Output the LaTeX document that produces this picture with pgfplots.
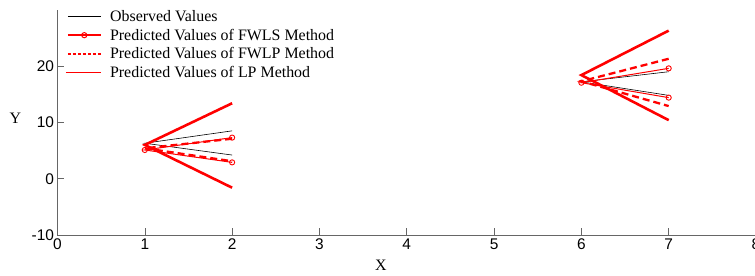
\documentclass[border=0pt]{standalone}
\usepackage{pgfplots}
\pgfplotsset{compat=1.18}
\usepackage{fontspec}
\setmainfont{Liberation Serif}
\newfontfamily\ticksans{Liberation Sans}
\begin{document}
\begin{tikzpicture}
\begin{axis}[
  at={(0,0)}, anchor=south west,
  scale only axis, width=698.5bp, height=225.2bp,
  xmin=0, xmax=8, ymin=-10, ymax=30,
  xtick={0,1,...,8}, ytick={-10,0,10,20},
  axis x line*=bottom, axis y line*=left,
  axis line style={draw=gray!80!black, line width=0.8pt},
  tick style={draw=gray!80!black, line width=0.6pt},
  tick align=inside, major tick length=7bp,
  tick label style={font=\ticksans\fontsize{15.5}{17}\selectfont},
  /pgf/number format/assume math mode=true,
  xlabel={X}, ylabel={Y},
  label style={font=\fontsize{16}{18}\selectfont},
  xlabel style={at={(axis description cs:0.463,0)}, anchor=north, yshift=-22bp},
  ylabel style={rotate=-90, at={(axis description cs:0,0.52)}, anchor=center, xshift=-42bp},
  unbounded coords=jump,
  legend cell align=left,
  legend style={at={(axis description cs:0.009,1.012)}, anchor=north west, draw=none, fill=none,
    font=\fontsize{16}{18}\selectfont, row sep=2.0bp, inner sep=1bp},
  clip=false,
]
\addplot[black, line width=0.6pt,
  legend image code/.code={\draw[black, solid, line width=1.2pt] (0bp,0bp) -- (33bp,0bp); \path (39bp,0bp);}]
  coordinates {(2,8.5) (1,6.3) (2,4.2) (7,nan) (7,19.0) (6,17.2) (7,14.8)};
\addlegendentry{Observed Values}
\addplot[red, line width=1.0pt, mark=o, mark size=2.6bp, mark options={solid, line width=0.9pt},
  legend image code/.code={\draw[red, solid, line width=1.5pt] (0bp,0bp) -- (33bp,0bp); \draw[red, line width=1pt] (16.5bp,0bp) circle[radius=2.6bp]; \path (39bp,0bp);}]
  coordinates {(2,7.3) (1,5.1) (2,2.9) (7,nan) (7,19.6) (6,17.05) (7,14.4)};
\addlegendentry{Predicted Values of FWLS Method}
\addplot[red, line width=2.3pt, dash pattern=on 7bp off 4bp,
  legend image code/.code={\draw[red, line width=1.3pt, dash pattern=on 3bp off 2bp] (0bp,0bp) -- (33bp,0bp); \path (39bp,0bp);}]
  coordinates {(2,7.1) (1,5.4) (2,3.1) (7,nan) (7,21.3) (6,17.3) (7,12.9)};
\addlegendentry{Predicted Values of FWLP Method}
\addplot[red, line width=2.6pt,
  legend image code/.code={\draw[red, solid, line width=1.6pt] (-2bp,0bp) -- (33bp,0bp); \path (39bp,0bp);}]
  coordinates {(2,13.4) (1,6.0) (2,-1.6) (7,nan) (7,26.3) (6,18.4) (7,10.4)};
\addlegendentry{Predicted Values of LP Method}
\end{axis}
\pgfresetboundingbox
\path[use as bounding box] (-57.5bp,-41bp) rectangle (697.5bp,235bp);
\end{tikzpicture}
\end{document}
